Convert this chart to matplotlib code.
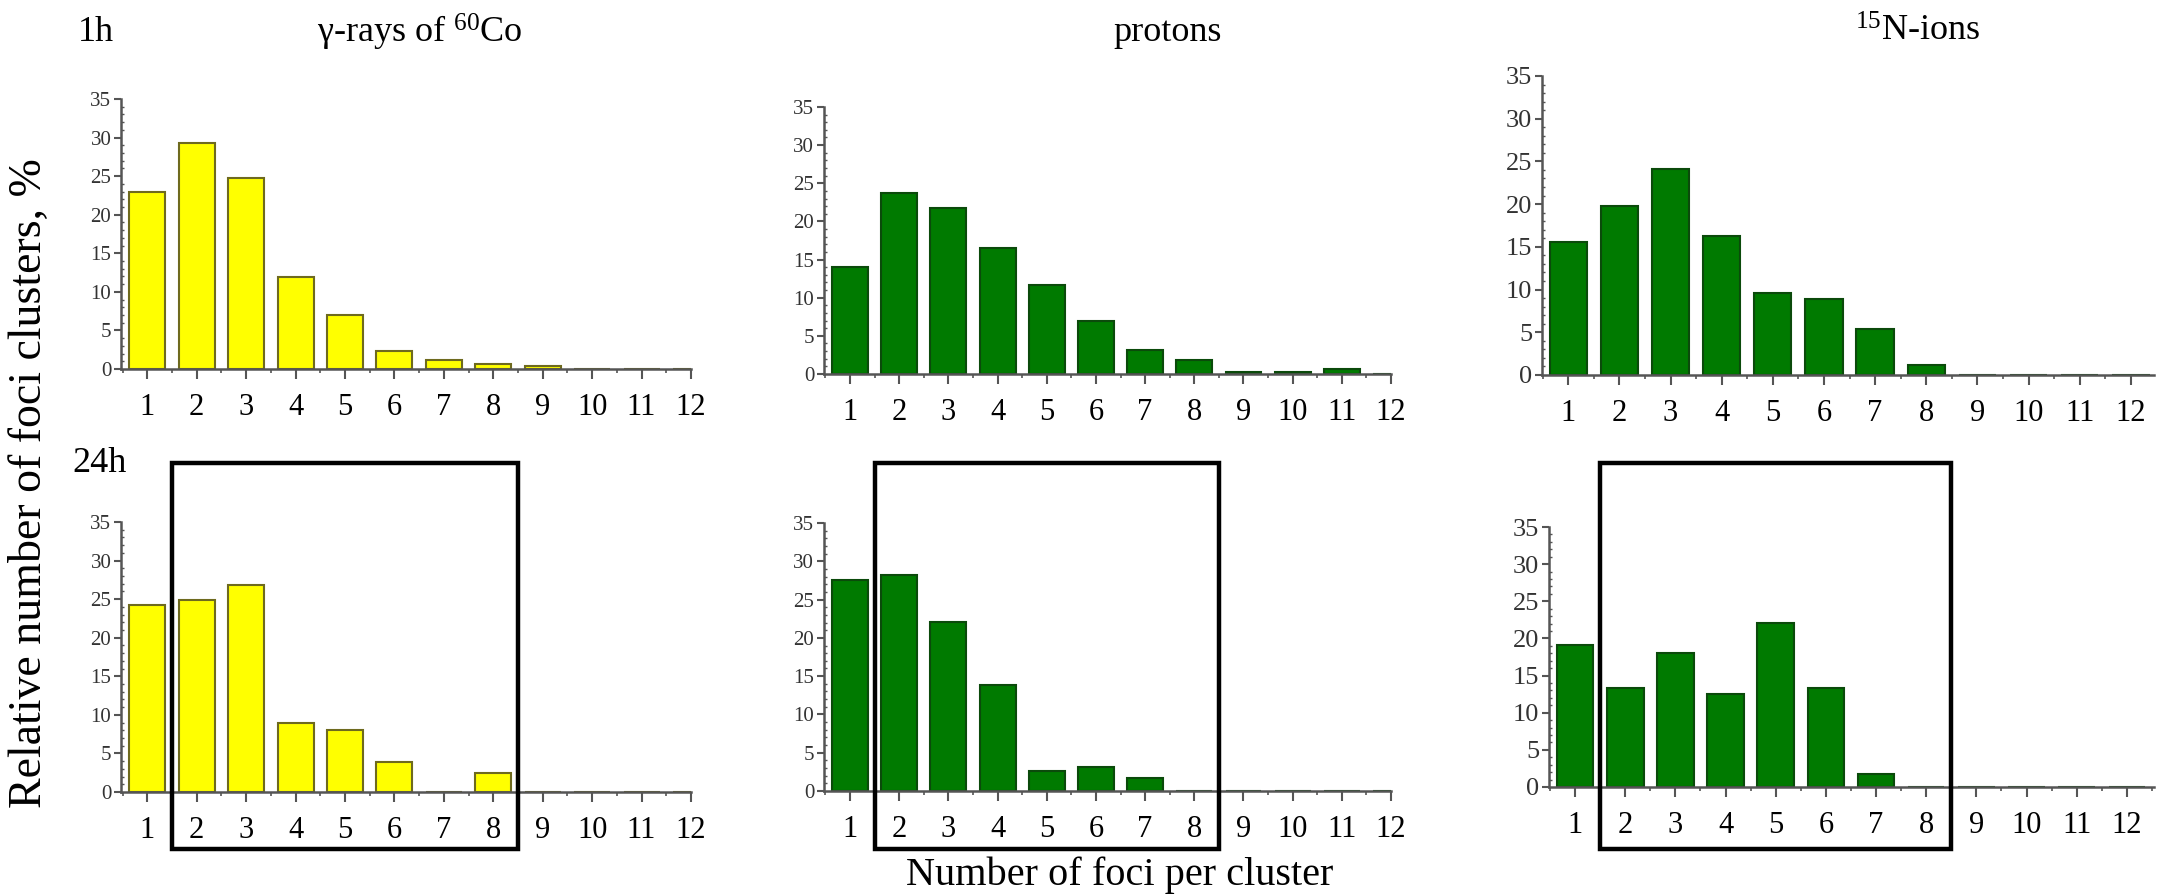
import matplotlib
matplotlib.use('Agg')
import matplotlib.pyplot as plt
import matplotlib.transforms as mtransforms
from matplotlib.patches import Rectangle
from matplotlib.ticker import MultipleLocator
import numpy as np

plt.rcParams['font.family'] = 'Liberation Serif'
plt.rcParams['mathtext.fontset'] = 'custom'
plt.rcParams['mathtext.rm'] = 'Liberation Serif'
plt.rcParams['mathtext.it'] = 'Liberation Serif:italic'

# data
foci = np.arange(1, 13)
gamma_1h = [22.9, 29.3, 24.8, 11.9, 7.0, 2.3, 1.1, 0.7, 0.4, 0, 0, 0]
protons_1h = [14.0, 23.7, 21.8, 16.5, 11.6, 7.0, 3.1, 1.8, 0.3, 0.3, 0.6, 0]
nions_1h = [15.6, 19.8, 24.1, 16.3, 9.6, 8.9, 5.4, 1.2, 0, 0, 0, 0]
gamma_24h = [24.2, 24.9, 26.8, 9.0, 8.0, 3.9, 0, 2.5, 0, 0, 0, 0]
protons_24h = [27.6, 28.2, 22.1, 13.9, 2.6, 3.1, 1.7, 0, 0, 0, 0, 0]
nions_24h = [19.1, 13.3, 18.1, 12.5, 22.1, 13.3, 1.7, 0, 0, 0, 0, 0]

titles = ['γ-rays of $^{60}$Co', 'protons', '$^{15}$N-ions']
x_ticks = [str(i) for i in foci]

YELLOW, YELLOW_EDGE = '#ffff00', '#6e6a1e'
GREEN, GREEN_EDGE = '#007a00', '#0b4a0b'
AXIS_COL = '#555555'

fig = plt.figure(figsize=(21.58, 8.96), dpi=100)

# (left, bottom, width, height), xlim, ytick size
panels = [
    (gamma_1h, YELLOW, YELLOW_EDGE, [0.0561, 0.5882, 0.2641, 0.3013], (0.47, 12.0), 15),
    (protons_1h, GREEN, GREEN_EDGE, [0.3818, 0.5826, 0.2628, 0.2980], (0.47, 12.0), 15),
    (nions_1h, GREEN, GREEN_EDGE, [0.7146, 0.5815, 0.2835, 0.3337], (0.49, 12.45), 19),
    (gamma_24h, YELLOW, YELLOW_EDGE, [0.0561, 0.1161, 0.2641, 0.3013], (0.47, 12.0), 15),
    (protons_24h, GREEN, GREEN_EDGE, [0.3818, 0.1172, 0.2628, 0.2991], (0.47, 12.0), 15),
    (nions_24h, GREEN, GREEN_EDGE, [0.7178, 0.1217, 0.2803, 0.2901], (0.48, 12.54), 19),
]

axes = []
for vals, fc, ec, rect, xlim, ysize in panels:
    ax = fig.add_axes(rect)
    ax.bar(foci, vals, width=0.73, color=fc, edgecolor=ec, linewidth=1.5, zorder=2)
    ax.set_xlim(*xlim)
    ax.set_ylim(0, 35)
    ax.set_xticks(foci)
    ax.set_xticklabels(x_ticks)
    ax.yaxis.set_major_locator(MultipleLocator(5))
    ax.yaxis.set_minor_locator(MultipleLocator(1))
    ax.xaxis.set_minor_locator(MultipleLocator(0.5))
    for s in ['top', 'right']:
        ax.spines[s].set_visible(False)
    for s in ['left', 'bottom']:
        ax.spines[s].set_color(AXIS_COL)
        ax.spines[s].set_linewidth(1.8)
        ax.spines[s].set_zorder(3)
    ax.tick_params(axis='x', which='major', direction='out', length=7, width=1.5,
                   color=AXIS_COL, labelsize=22, pad=10)
    ax.tick_params(axis='x', which='minor', direction='out', length=3, width=1.2,
                   color=AXIS_COL)
    ax.tick_params(axis='y', which='major', direction='out', length=5, width=1.5,
                   color=AXIS_COL, labelsize=ysize, labelcolor='#333333', pad=2)
    ax.tick_params(axis='y', which='minor', direction='in', length=2, width=1.0,
                   color=AXIS_COL)
    axes.append(ax)

# boxes over foci 2..8 in the 24h row
for ax in axes[3:]:
    trans = mtransforms.blended_transform_factory(ax.transData, fig.transFigure)
    box = Rectangle((1.5, 0.0525), 7.0, 0.4308, transform=trans, fill=False,
                    edgecolor='black', linewidth=3.2, clip_on=False, zorder=5)
    fig.add_artist(box)

fig.text(96 / 2158, 0.964, '1h', fontsize=26, ha='center', va='center')
fig.text(100 / 2158, 0.483, '24h', fontsize=26, ha='center', va='center')
for xc, t in zip([420, 1168, 1918], titles):
    fig.text(xc / 2158, 0.964, t, fontsize=26, ha='center', va='center')

fig.text(1120 / 2158, 0.0234, 'Number of foci per cluster', fontsize=29,
         ha='center', va='center')
fig.text(30 / 2158, 0.461, 'Relative number of foci clusters, %', fontsize=33,
         rotation=90, ha='center', va='center')

plt.savefig('out.png', dpi=100)
